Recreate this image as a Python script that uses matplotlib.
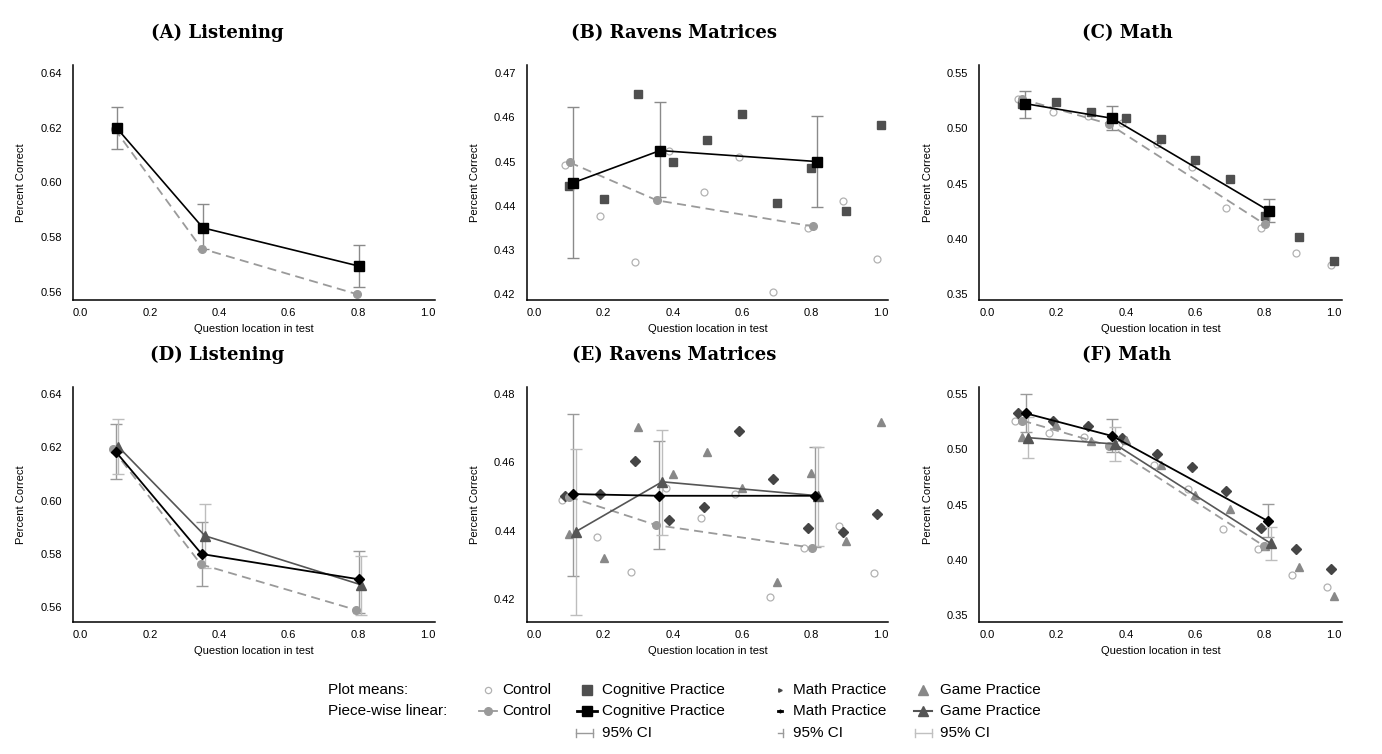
import matplotlib
matplotlib.use('Agg')
import matplotlib.pyplot as plt
from matplotlib.lines import Line2D

plt.rcParams['font.family'] = ['Liberation Sans', 'DejaVu Sans']

# ---------------- data ----------------
deciles = [0.1, 0.2, 0.3, 0.4, 0.5, 0.6, 0.7, 0.8, 0.9, 1.0]
x_m01 = [0.09, 0.19, 0.29, 0.39, 0.49, 0.59, 0.69, 0.79, 0.89, 0.99]
x_m02 = [0.08, 0.18, 0.28, 0.38, 0.48, 0.58, 0.68, 0.78, 0.88, 0.98]

# (A) Listening
a_ctrl_pw_x = [0.098, 0.349, 0.798]
a_ctrl_pw_y = [0.6196, 0.5758, 0.5591]
a_cog_pw_x = [0.105, 0.353, 0.803]
a_cog_pw_y = [0.6198, 0.5834, 0.5694]
a_cog_ci_lo = [0.6122, 0.5755, 0.5616]
a_cog_ci_hi = [0.6275, 0.5920, 0.5772]

# (B) Ravens Matrices
b_ctrl_mean = [0.4492, 0.4377, 0.4273, 0.4525, 0.4432, 0.4511, 0.4205, 0.4350, 0.4410, 0.4280]
b_cog_mean = [0.4445, 0.4415, 0.4653, 0.4500, 0.4550, 0.4608, 0.4405, 0.4486, 0.4387, 0.4584]
b_ctrl_pw_x = [0.102, 0.354, 0.805]
b_ctrl_pw_y = [0.4498, 0.4412, 0.4353]
b_cog_pw_x = [0.112, 0.363, 0.816]
b_cog_pw_y = [0.4452, 0.4525, 0.4500]
b_cog_ci_lo = [0.4281, 0.4419, 0.4396]
b_cog_ci_hi = [0.4623, 0.4635, 0.4604]

# (C) Math
c_ctrl_mean = [0.5264, 0.5153, 0.5113, 0.5050, 0.4860, 0.4654, 0.4282, 0.4095, 0.3869, 0.3763]
c_cog_mean = [0.5219, 0.5237, 0.5147, 0.5092, 0.4908, 0.4715, 0.4542, 0.4210, 0.4017, 0.3796]
c_ctrl_pw_x = [0.100, 0.351, 0.801]
c_ctrl_pw_y = [0.5267, 0.5041, 0.4131]
c_cog_pw_x = [0.110, 0.361, 0.812]
c_cog_pw_y = [0.5225, 0.5092, 0.4255]
c_cog_ci_lo = [0.5095, 0.4986, 0.4153]
c_cog_ci_hi = [0.5343, 0.5201, 0.4358]

# (D) Listening
d_ctrl_pw_x = [0.093, 0.347, 0.795]
d_ctrl_pw_y = [0.6193, 0.5761, 0.5590]
d_math_pw_x = [0.101, 0.349, 0.803]
d_math_pw_y = [0.6184, 0.5800, 0.5705]
d_game_pw_x = [0.108, 0.359, 0.810]
d_game_pw_y = [0.6203, 0.5868, 0.5684]
d_math_ci_lo = [0.6080, 0.5680, 0.5580]
d_math_ci_hi = [0.6289, 0.5921, 0.5810]
d_game_ci_lo = [0.6099, 0.5749, 0.5570]
d_game_ci_hi = [0.6308, 0.5986, 0.5794]

# (E) Ravens Matrices
e_ctrl_mean = [0.4489, 0.4382, 0.4280, 0.4524, 0.4436, 0.4506, 0.4204, 0.4350, 0.4414, 0.4276]
e_math_mean = [0.4501, 0.4507, 0.4603, 0.4431, 0.4470, 0.4691, 0.4550, 0.4408, 0.4397, 0.4448]
e_game_mean = [0.4390, 0.4321, 0.4704, 0.4567, 0.4630, 0.4525, 0.4249, 0.4569, 0.4369, 0.4717]
e_ctrl_pw_x = [0.100, 0.352, 0.801]
e_ctrl_pw_y = [0.4499, 0.4416, 0.4350]
e_math_pw_x = [0.112, 0.361, 0.811]
e_math_pw_y = [0.4507, 0.4502, 0.4502]
e_game_pw_x = [0.120, 0.369, 0.820]
e_game_pw_y = [0.4397, 0.4543, 0.4502]
e_math_ci_lo = [0.4267, 0.4346, 0.4352]
e_math_ci_hi = [0.4743, 0.4662, 0.4646]
e_game_ci_lo = [0.4152, 0.4386, 0.4354]
e_game_ci_hi = [0.4639, 0.4696, 0.4644]

# (F) Math
f_ctrl_mean = [0.5259, 0.5145, 0.5108, 0.5050, 0.4861, 0.4642, 0.4280, 0.4096, 0.3864, 0.3759]
f_math_mean = [0.5325, 0.5259, 0.5208, 0.5105, 0.4961, 0.4843, 0.4623, 0.4292, 0.4100, 0.3916]
f_game_mean = [0.5108, 0.5223, 0.5078, 0.5080, 0.4858, 0.4587, 0.4461, 0.4127, 0.3940, 0.3678]
f_ctrl_pw_x = [0.102, 0.351, 0.798]
f_ctrl_pw_y = [0.5259, 0.5033, 0.4127]
f_math_pw_x = [0.112, 0.361, 0.811]
f_math_pw_y = [0.5325, 0.5120, 0.4349]
f_game_pw_x = [0.118, 0.368, 0.817]
f_game_pw_y = [0.5105, 0.5048, 0.4151]
f_math_ci_lo = [0.5154, 0.4973, 0.4205]
f_math_ci_hi = [0.5497, 0.5274, 0.4503]
f_game_ci_lo = [0.4919, 0.4895, 0.4000]
f_game_ci_hi = [0.5289, 0.5199, 0.4295]

titles = ['(A) Listening', '(B) Ravens Matrices', '(C) Math',
          '(D) Listening', '(E) Ravens Matrices', '(F) Math']
x_ticks = [0.0, 0.2, 0.4, 0.6, 0.8, 1.0]
y_ticks_listen = [0.56, 0.58, 0.60, 0.62, 0.64]
y_ticks_ravens_top = [0.42, 0.43, 0.44, 0.45, 0.46, 0.47]
y_ticks_ravens_bot = [0.42, 0.44, 0.46, 0.48]
y_ticks_math = [0.35, 0.40, 0.45, 0.50, 0.55]

# ---------------- styles ----------------
ST_CTRL_MEAN = dict(ls='none', marker='o', mfc='none', mec='#b2b2b2', ms=5.0, mew=0.9)
ST_COG_MEAN = dict(ls='none', marker='s', color='#4f4f4f', ms=5.5)
ST_MATH_MEAN = dict(ls='none', marker='D', color='#454545', ms=5.0)
ST_GAME_MEAN = dict(ls='none', marker='^', color='#888888', ms=6.0)
ST_CTRL_PW = dict(marker='o', color='#9a9a9a', ms=5.5, lw=1.3, ls=(0, (5, 3)))
ST_COG_PW = dict(marker='s', color='black', ms=6.5, lw=1.2)
ST_MATH_PW = dict(marker='D', color='black', ms=5.5, lw=1.3)
ST_GAME_PW = dict(marker='^', color='#555555', ms=6.5, lw=1.2)
CI_COG = '#8a8a8a'
CI_MATH = '#9a9a9a'
CI_GAME = '#bdbdbd'

fig = plt.figure(figsize=(13.82, 7.54), dpi=100)
W, H = 1382.0, 754.0


def make_ax(left_px, top_px, right_px, bottom_px):
    return fig.add_axes([left_px / W, 1 - bottom_px / H,
                         (right_px - left_px) / W, (bottom_px - top_px) / H])


def style_ax(ax, ylim, yticks):
    ax.set_xlim(-0.022, 1.022)
    ax.set_ylim(*ylim)
    ax.set_xticks(x_ticks)
    ax.set_xticklabels(['%.1f' % v for v in x_ticks])
    ax.set_yticks(yticks)
    ax.set_yticklabels(['%.2f' % v for v in yticks])
    for s in ['top', 'right']:
        ax.spines[s].set_visible(False)
    for s in ['left', 'bottom']:
        ax.spines[s].set_linewidth(1.1)
    ax.tick_params(axis='both', length=0, labelsize=8)
    ax.tick_params(axis='y', pad=8)
    ax.tick_params(axis='x', pad=6)
    ax.set_xlabel('Question location in test', fontsize=8, labelpad=4)
    ax.set_ylabel('Percent Correct', fontsize=8, labelpad=10)
    ax.patch.set_alpha(0)


def ci(ax, x, lo, hi, color):
    for xi, l, h in zip(x, lo, hi):
        ax.errorbar([xi], [(l + h) / 2], yerr=[[(l + h) / 2 - l], [h - (l + h) / 2]],
                    fmt='none', ecolor=color, elinewidth=1.0, capsize=4, capthick=1.0)


lefts = [73, 526.7, 979.3]
rights = [435, 888.3, 1341.7]
tops = [65, 387.3]
bottoms = [300, 622]
title_x = [217, 674, 1127]
title_y = [33, 355]

axes = []
for r in range(2):
    for c in range(3):
        axes.append(make_ax(lefts[c], tops[r], rights[c], bottoms[r]))
        fig.text(title_x[c] / W, 1 - title_y[r] / H, titles[r * 3 + c],
                 ha='center', va='center', fontsize=13, fontweight='bold',
                 family=['DejaVu Serif'])

# (A)
ax = axes[0]
ci(ax, a_cog_pw_x, a_cog_ci_lo, a_cog_ci_hi, CI_COG)
ax.plot(a_ctrl_pw_x, a_ctrl_pw_y, **ST_CTRL_PW)
ax.plot(a_cog_pw_x, a_cog_pw_y, **ST_COG_PW)
style_ax(ax, (0.557, 0.643), y_ticks_listen)

# (B)
ax = axes[1]
ax.plot(x_m01, b_ctrl_mean, **ST_CTRL_MEAN)
ax.plot(deciles, b_cog_mean, **ST_COG_MEAN)
ci(ax, b_cog_pw_x, b_cog_ci_lo, b_cog_ci_hi, CI_COG)
ax.plot(b_ctrl_pw_x, b_ctrl_pw_y, **ST_CTRL_PW)
ax.plot(b_cog_pw_x, b_cog_pw_y, **ST_COG_PW)
style_ax(ax, (0.4186, 0.4719), y_ticks_ravens_top)

# (C)
ax = axes[2]
ax.plot(x_m01, c_ctrl_mean, **ST_CTRL_MEAN)
ax.plot(deciles, c_cog_mean, **ST_COG_MEAN)
ci(ax, c_cog_pw_x, c_cog_ci_lo, c_cog_ci_hi, CI_COG)
ax.plot(c_ctrl_pw_x, c_ctrl_pw_y, **ST_CTRL_PW)
ax.plot(c_cog_pw_x, c_cog_pw_y, **ST_COG_PW)
style_ax(ax, (0.3446, 0.5575), y_ticks_math)

# (D)
ax = axes[3]
ci(ax, d_math_pw_x, d_math_ci_lo, d_math_ci_hi, CI_MATH)
ci(ax, d_game_pw_x, d_game_ci_lo, d_game_ci_hi, CI_GAME)
ax.plot(d_ctrl_pw_x, d_ctrl_pw_y, **ST_CTRL_PW)
ax.plot(d_game_pw_x, d_game_pw_y, **ST_GAME_PW)
ax.plot(d_math_pw_x, d_math_pw_y, **ST_MATH_PW)
style_ax(ax, (0.5545, 0.6425), y_ticks_listen)

# (E)
ax = axes[4]
ax.plot(x_m02, e_ctrl_mean, **ST_CTRL_MEAN)
ax.plot(x_m01, e_math_mean, **ST_MATH_MEAN)
ax.plot(deciles, e_game_mean, **ST_GAME_MEAN)
ci(ax, e_math_pw_x, e_math_ci_lo, e_math_ci_hi, CI_MATH)
ci(ax, e_game_pw_x, e_game_ci_lo, e_game_ci_hi, CI_GAME)
ax.plot(e_ctrl_pw_x, e_ctrl_pw_y, **ST_CTRL_PW)
ax.plot(e_game_pw_x, e_game_pw_y, **ST_GAME_PW)
ax.plot(e_math_pw_x, e_math_pw_y, **ST_MATH_PW)
style_ax(ax, (0.4132, 0.482), y_ticks_ravens_bot)

# (F)
ax = axes[5]
ax.plot(x_m02, f_ctrl_mean, **ST_CTRL_MEAN)
ax.plot(x_m01, f_math_mean, **ST_MATH_MEAN)
ax.plot(deciles, f_game_mean, **ST_GAME_MEAN)
ci(ax, f_math_pw_x, f_math_ci_lo, f_math_ci_hi, CI_MATH)
ci(ax, f_game_pw_x, f_game_ci_lo, f_game_ci_hi, CI_GAME)
ax.plot(f_ctrl_pw_x, f_ctrl_pw_y, **ST_CTRL_PW)
ax.plot(f_game_pw_x, f_game_pw_y, **ST_GAME_PW)
ax.plot(f_math_pw_x, f_math_pw_y, **ST_MATH_PW)
style_ax(ax, (0.344, 0.556), y_ticks_math)

# ---------------- legend (manual) ----------------
LEG_FS = 11.0
row_y = [690, 711, 733]


def fx(px):
    return px / W


def fy(py):
    return 1 - py / H


def leg_text(px, py, s):
    fig.text(fx(px), fy(py), s, ha='left', va='center', fontsize=LEG_FS)


def leg_marker(px, py, half_len=0, **kw):
    xs = [fx(px - half_len), fx(px), fx(px + half_len)] if half_len else [fx(px)]
    ys = [fy(py)] * len(xs)
    ln = Line2D(xs, ys, transform=fig.transFigure, markevery=[len(xs) // 2], **kw)
    fig.add_artist(ln)


def leg_ci(px0, px1, py, color, left_cap=True):
    fig.add_artist(Line2D([fx(px0), fx(px1)], [fy(py), fy(py)], transform=fig.transFigure,
                          color=color, lw=1.0))
    caps = [px0, px1] if left_cap else [px1]
    for cx in caps:
        fig.add_artist(Line2D([fx(cx), fx(cx)], [fy(py - 4), fy(py + 4)],
                              transform=fig.transFigure, color=color, lw=1.0))


leg_text(328, row_y[0], 'Plot means:')
leg_text(328, row_y[1], 'Piece-wise linear:')

# Control
leg_marker(488, row_y[0], ls='none', marker='o', mfc='none', mec='#b2b2b2', ms=4.5, mew=0.9)
leg_text(502, row_y[0], 'Control')
leg_marker(488, row_y[1], half_len=9, marker='o', color='#9a9a9a', ms=5.5, lw=1.3)
leg_text(502, row_y[1], 'Control')

# Cognitive
leg_marker(587, row_y[0], ls='none', marker='s', color='#4f4f4f', ms=6.5)
leg_text(602, row_y[0], 'Cognitive Practice')
leg_marker(587, row_y[1], half_len=10, marker='s', color='black', ms=7, lw=2.0)
leg_text(602, row_y[1], 'Cognitive Practice')
leg_ci(576, 593, row_y[2], '#9a9a9a')
leg_text(602, row_y[2], '95% CI')

# Math
leg_marker(780, row_y[0], ls='none', marker='>', color='#454545', ms=2.5)
leg_text(793, row_y[0], 'Math Practice')
leg_marker(780, row_y[1], half_len=2, marker='D', color='black', ms=1.5, lw=2.0)
leg_text(793, row_y[1], 'Math Practice')
leg_ci(778, 783, row_y[2], '#9a9a9a', left_cap=False)
leg_text(793, row_y[2], '95% CI')

# Game
leg_marker(923, row_y[0], ls='none', marker='^', color='#888888', ms=6.5)
leg_text(940, row_y[0], 'Game Practice')
leg_marker(923, row_y[1], half_len=9, marker='^', color='#555555', ms=6.5, lw=1.5)
leg_text(940, row_y[1], 'Game Practice')
leg_ci(915, 932, row_y[2], '#c0c0c0')
leg_text(940, row_y[2], '95% CI')

fig.savefig('out.png', dpi=100, facecolor='white')
